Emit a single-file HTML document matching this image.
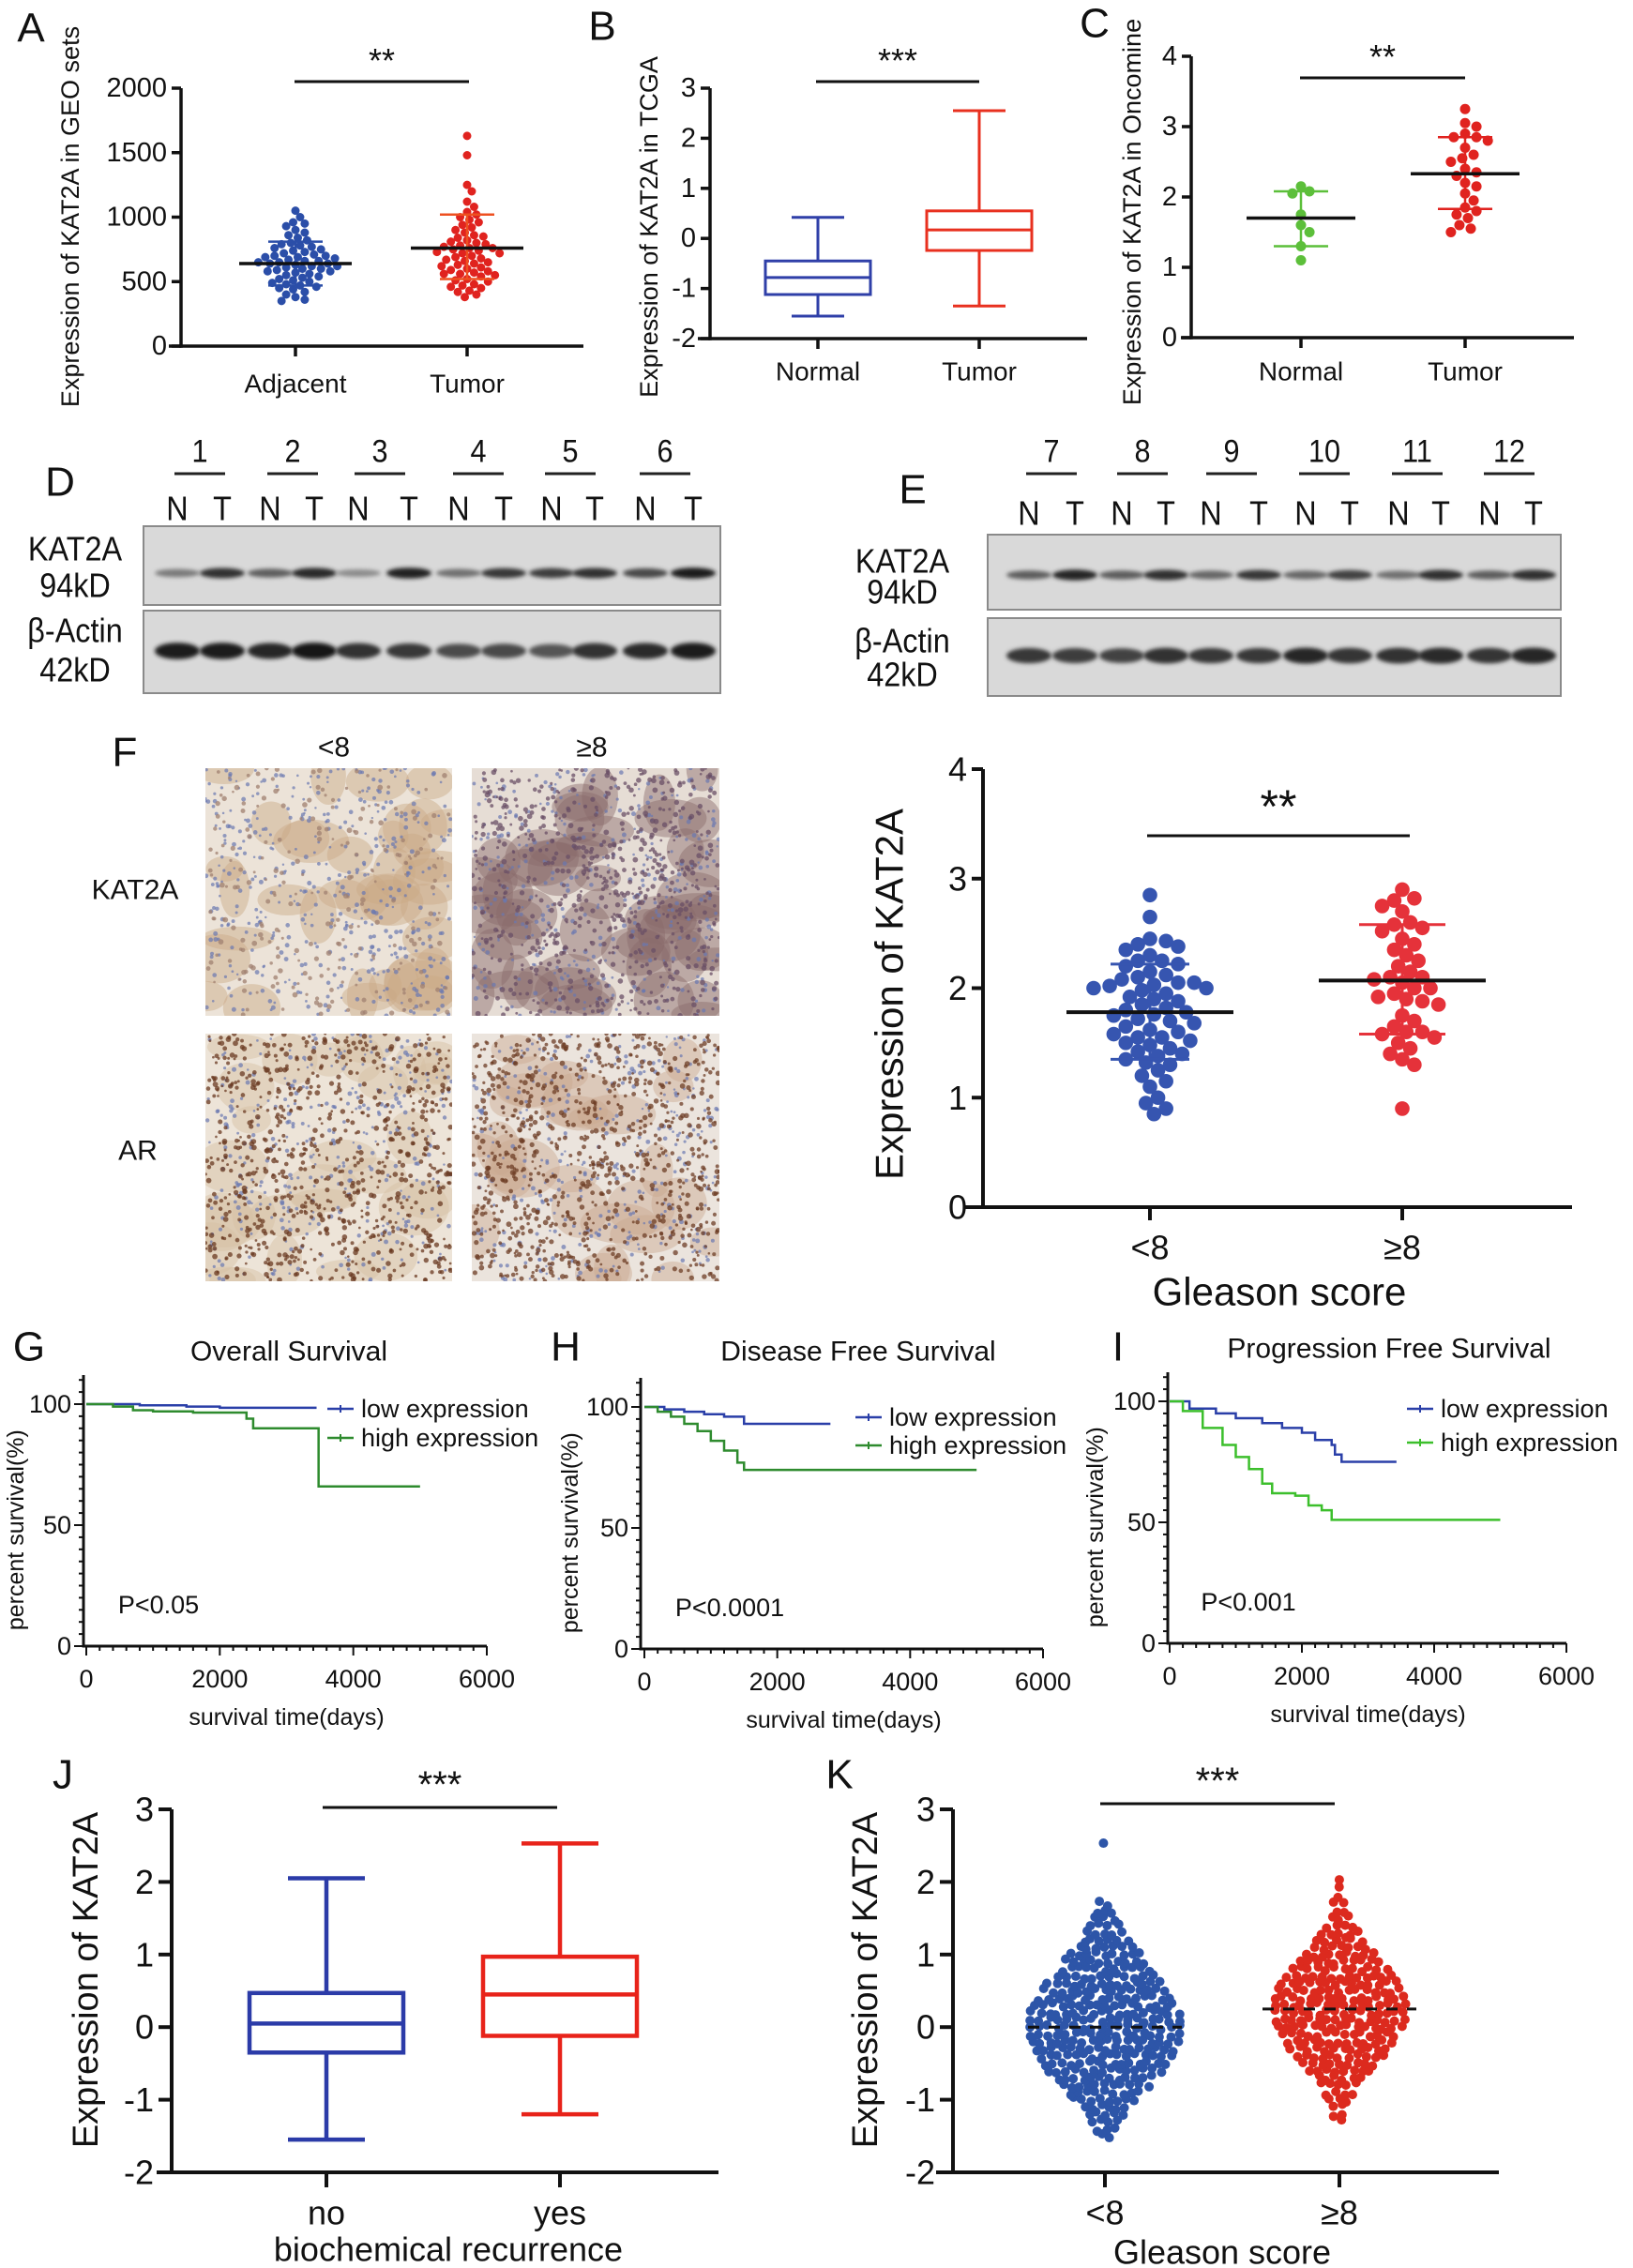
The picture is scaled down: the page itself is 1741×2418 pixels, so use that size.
<!DOCTYPE html>
<html><head><meta charset="utf-8"><style>html,body{margin:0;padding:0;background:#fff}svg{display:block}</style></head>
<body>
<svg id="fig" xmlns="http://www.w3.org/2000/svg" width="1741" height="2418" viewBox="0 0 1741 2418">
<defs><filter id="blur" x="-20%" y="-100%" width="140%" height="300%"><feGaussianBlur stdDeviation="3"/></filter>
<filter id="blur2" x="-30%" y="-100%" width="160%" height="300%"><feGaussianBlur stdDeviation="2.2"/></filter></defs>
<rect x="0" y="0" width="1741" height="2418" fill="#fff"/>
</svg>
<script>
// ---------- DATA ----------
const A_ticks=[0,500,1000,1500,2000];
const A_cats=['Adjacent','Tumor'];
const A_adjacent=[1050,1000,960,950,930,900,880,860,840,820,800,790,780,770,760,750,740,730,720,710,700,690,690,680,670,660,660,650,640,640,630,620,610,600,600,590,580,570,560,550,540,530,520,510,500,490,480,470,460,450,440,420,400,380,360,350,700,650,620,580];
const A_tumor=[1630,1480,1250,1200,1120,1080,1040,1020,1000,980,960,940,920,900,880,860,840,820,800,790,780,770,760,750,740,730,720,700,690,680,660,650,640,620,610,600,590,580,570,560,550,540,520,510,500,480,470,460,450,430,420,400,380,850,810,760,720,670,630,560];
const A_mean=[640,760];
const A_sdLow=[470,520];
const A_sdHigh=[810,1020];

const B_ticks=[-2,-1,0,1,2,3];
const B_cats=['Normal','Tumor'];
const B_min=[-1.55,-1.35], B_q1=[-1.12,-0.24], B_med=[-0.78,0.17], B_q3=[-0.45,0.55], B_max=[0.42,2.55];

const C_ticks=[0,1,2,3,4];
const C_cats=['Normal','Tumor'];
const C_normal=[2.15,2.08,2.05,1.75,1.6,1.5,1.3,1.1];
const C_tumor=[3.25,3.05,3.0,2.9,2.85,2.85,2.8,2.7,2.6,2.55,2.5,2.4,2.35,2.3,2.2,2.15,2.05,1.95,1.85,1.8,1.75,1.7,1.6,1.55,1.5];
const C_mean=[1.7,2.33], C_sdLow=[1.3,1.83], C_sdHigh=[2.08,2.85];

const D_pairs=['1','2','3','4','5','6'];
const D_kat2a=[0.45,0.85,0.6,0.88,0.35,0.92,0.5,0.8,0.78,0.85,0.72,0.95];
const D_actin=[0.95,0.95,0.9,0.98,0.85,0.8,0.7,0.72,0.65,0.85,0.88,0.95];
const E_pairs=['7','8','9','10','11','12'];
const E_kat2a=[0.6,0.9,0.6,0.85,0.55,0.8,0.55,0.75,0.5,0.85,0.6,0.85];
const E_actin=[0.8,0.78,0.75,0.85,0.8,0.8,0.9,0.82,0.85,0.88,0.82,0.9];

const F_ticks=[0,1,2,3,4];
const F_cats=['<8','≥8'];
const F_low=[2.85,2.65,2.45,2.43,2.4,2.38,2.35,2.3,2.25,2.25,2.22,2.2,2.15,2.12,2.1,2.08,2.05,2.05,2.03,2.02,2.0,2.0,1.98,1.95,1.92,1.9,1.88,1.85,1.82,1.8,1.78,1.76,1.75,1.72,1.7,1.68,1.65,1.62,1.6,1.58,1.55,1.55,1.52,1.5,1.48,1.45,1.42,1.4,1.38,1.35,1.32,1.3,1.25,1.2,1.15,1.1,1.0,0.95,0.9,0.85];
const F_high=[2.9,2.82,2.8,2.75,2.7,2.6,2.58,2.55,2.52,2.45,2.4,2.35,2.3,2.25,2.2,2.15,2.1,2.1,2.08,2.05,2.0,1.95,1.92,1.9,1.88,1.85,1.75,1.7,1.65,1.6,1.6,1.58,1.55,1.5,1.45,1.4,1.35,1.3,0.9,2.0];
const F_mean=[1.78,2.07], F_sdLow=[1.35,1.58], F_sdHigh=[2.22,2.58];

const S_xticks=[0,2000,4000,6000];
const S_yticks=[0,50,100];
const G_lowT=[0,800,1500,2000,3450], G_lowS=[100,99.5,99,98.5,98.5];
const G_highT=[0,400,700,1000,1600,2400,2500,3450,3480,5000], G_highS=[100,99,97.5,97,96.5,94,90,90,66,66];
const H_lowT=[0,300,600,900,1200,1500,2800], H_lowS=[100,99,98,97,96,93,93];
const H_highT=[0,200,400,600,800,1000,1200,1400,1500,5000], H_highS=[100,98,96,93,90,86,82,77,74,74];
const I_lowT=[0,300,700,1000,1400,1700,2000,2200,2450,2500,2600,3430], I_lowS=[100,97,95,93,91,89,87,84,82,78,75,75];
const I_highT=[0,200,500,800,1000,1200,1400,1550,1900,2100,2300,2450,5000], I_highS=[100,96,89,82,77,72,66,62,61,57,55,51,51];

const J_ticks=[-2,-1,0,1,2,3];
const J_cats=['no','yes'];
const J_min=[-1.55,-1.2], J_q1=[-0.35,-0.12], J_med=[0.05,0.45], J_q3=[0.47,0.97], J_max=[2.05,2.53];

const K_ticks=[-2,-1,0,1,2,3];
const K_cats=['<8','≥8'];
const K_lowStart=-1.5;
const K_lowCounts=[2,3,4,5,6,8,9,11,12,14,15,16,17,18,18,18,18,18,17,16,15,14,12,11,10,9,7,6,5,4,3,3,2,0,0,0,0,0,0,0,1];
const K_highStart=-1.3;
const K_highCounts=[1,2,2,3,4,5,6,8,9,11,12,13,14,15,16,16,16,16,15,14,13,12,10,9,7,6,5,4,3,2,2,1,1,1];
const K_mean=[0,0.25];

// ---------- HELPERS ----------
const NS='http://www.w3.org/2000/svg';
const svg=document.getElementById('fig');
const FONT='"Liberation Sans", "DejaVu Sans", sans-serif';
function lin(d0,d1,r0,r1){return v=>r0+(v-d0)*(r1-r0)/(d1-d0);}
function E(tag,a,name,p){
  const e=document.createElementNS(NS,tag);
  for(const k in a)e.setAttribute(k,a[k]);
  
  
  (p||svg).appendChild(e);return e;}
function T(x,y,s,fs,name,o){o=o||{};
  const e=E('text',{x:x,y:y,'font-size':fs,'text-anchor':o.anchor||'middle','dominant-baseline':o.base||'central','font-family':FONT,fill:o.fill||'#111'},name);
  if(o.rot)e.setAttribute('transform','rotate(-90 '+x+' '+y+')');
  if(o.sx)e.setAttribute('transform','translate('+x+' '+y+') scale('+o.sx+' 1) translate('+(-x)+' '+(-y)+')');
  e.textContent=s;return e;}
function L(x1,y1,x2,y2,c,w,name){return E('line',{x1:x1,y1:y1,x2:x2,y2:y2,stroke:c,'stroke-width':w},name);}
function yAxis(x,ys,ticks,fs,tl,w,name){
  L(x,ys(ticks[0])+w/2,x,ys(ticks[ticks.length-1]),'#111',w,name+'-y-axis');
  ticks.forEach(t=>{L(x-tl,ys(t),x,ys(t),'#111',w,name+'-y-tick');
    T(x-tl-5,ys(t),String(t),fs,name+'-y-tick-label',{anchor:'end'});});}
function xCats(y,x0,x1,cx,cats,fs,tl,w,ly,name){
  L(x0,y,x1,y,'#111',w,name+'-x-axis');
  cats.forEach((c,i)=>{L(cx(i),y,cx(i),y+tl,'#111',w,name+'-x-tick');
    T(cx(i),ly,c,fs,name+'-x-label');});}
function sig(x1,x2,y,stars,fs,name){L(x1,y,x2,y,'#111',3,name+'-significance-line');
  T((x1+x2)/2,y-fs*0.28,stars,fs,name+'-significance-stars',{base:'auto'});}
function swarm(vals,cx,ys,r,color,name){
  const s=[...vals].sort((a,b)=>b-a);const placed=[];
  s.forEach(v=>{const y=ys(v);let x=cx;
    for(let k=0;k<60;k++){const off=(k%2?1:-1)*Math.ceil(k/2)*r*0.55;const tx=cx+off;
      if(placed.every(p=>Math.hypot(p[0]-tx,p[1]-y)>=1.8*r)){x=tx;break;}}
    placed.push([x,y]);
    E('circle',{cx:x,cy:y,r:r,fill:color},name);});}
function meanSd(cx,ys,m,lo,hi,hw,cw,mc,sc,w,name){
  L(cx,ys(lo),cx,ys(hi),sc,w,name+'-sd-bar');
  L(cx-cw,ys(lo),cx+cw,ys(lo),sc,w,name+'-sd-cap-low');
  L(cx-cw,ys(hi),cx+cw,ys(hi),sc,w,name+'-sd-cap-high');
  L(cx-hw,ys(m),cx+hw,ys(m),mc,w+1,name+'-mean-line');}
function box(cx,w,ys,mn,q1,md,q3,mx,c,sw,name){
  L(cx,ys(mx),cx,ys(q3),c,sw,name+'-whisker-high');L(cx,ys(q1),cx,ys(mn),c,sw,name+'-whisker-low');
  L(cx-w/4,ys(mx),cx+w/4,ys(mx),c,sw,name+'-cap-high');L(cx-w/4,ys(mn),cx+w/4,ys(mn),c,sw,name+'-cap-low');
  E('rect',{x:cx-w/2,y:ys(q3),width:w,height:ys(q1)-ys(q3),fill:'none',stroke:c,'stroke-width':sw},name+'-box');
  L(cx-w/2,ys(md),cx+w/2,ys(md),c,sw,name+'-median');}

// ---------- PANEL LETTERS ----------
[['A',33,30],['B',642,28],['C',1167,25],['D',64,514],['E',973,522],['F',133,802],['G',31,1436],['H',603,1436],['I',1192,1436],['J',67,1892],['K',895,1892]]
.forEach(p=>T(p[1],p[2],p[0],44,'panel-label-'+p[0].toLowerCase()));

// ---------- A ----------
(function(){const ys=lin(0,2000,369,94);const cx=i=>315+i*183;
 yAxis(193,ys,A_ticks,29,10,3.5,'a');
 xCats(369,180,622,cx,A_cats,28,11,3.5,409,'a');
 T(75,231,'Expression of KAT2A in GEO sets',27,'a-y-axis-title',{rot:1});
 swarm(A_adjacent,cx(0),ys,4.5,'#2b4ea8','a-adjacent-dot');
 swarm(A_tumor,cx(1),ys,4.5,'#e0231f','a-tumor-dot');
 meanSd(cx(0),ys,A_mean[0],A_sdLow[0],A_sdHigh[0],60,29,'#111','#2b4ea8',2.5,'a-adjacent');
 meanSd(cx(1),ys,A_mean[1],A_sdLow[1],A_sdHigh[1],60,29,'#111','#ee5020',2.5,'a-tumor');
 sig(314,500,87,'**',36,'a');})();

// ---------- B ----------
(function(){const ys=lin(-2,3,361,94);const cx=i=>872+i*172;
 yAxis(757,ys,B_ticks,29,10,3.5,'b');
 xCats(361,744,1159,cx,B_cats,28,11,3.5,396,'b');
 T(692,242,'Expression of KAT2A in TCGA',27,'b-y-axis-title',{rot:1});
 const cols=['#2f3fa8','#e8301f'];
 B_cats.forEach((c,i)=>box(cx(i),112,ys,B_min[i],B_q1[i],B_med[i],B_q3[i],B_max[i],cols[i],3,'b-box-'+c.toLowerCase()));
 sig(870,1044,87,'***',36,'b');})();

// ---------- C ----------
(function(){const ys=lin(0,4,360,60);const cx=i=>1387+i*175;
 yAxis(1270,ys,C_ticks,29,10,3.5,'c');
 xCats(360,1259,1678,cx,C_cats,28,11,3.5,396,'c');
 T(1207,226,'Expression of KAT2A in Oncomine',27,'c-y-axis-title',{rot:1});
 swarm(C_normal,cx(0),ys,5.5,'#5cbf3a','c-normal-dot');
 swarm(C_tumor,cx(1),ys,5.5,'#e0231f','c-tumor-dot');
 meanSd(cx(0),ys,C_mean[0],C_sdLow[0],C_sdHigh[0],58,29,'#111','#5cbf3a',2.5,'c-normal');
 meanSd(cx(1),ys,C_mean[1],C_sdLow[1],C_sdHigh[1],58,29,'#111','#e0231f',2.5,'c-tumor');
 sig(1386,1562,83,'**',36,'c');})();

// ---------- WESTERN BLOTS ----------
function blot(pairs,kat,act,lanes,pairX,o,name){
 pairs.forEach((p,i)=>{T(pairX[i],481,p,34,name+'-sample-number',{sx:0.9});
   L(pairX[i]-27,505,pairX[i]+27,505,'#222',3,name+'-sample-underline');});
 lanes.forEach((x,i)=>T(x,o.nty,i%2?'T':'N',36,name+'-lane-label',{sx:0.9}));
 [[o.b1y0,o.b1y1,kat,o.kb,6],[o.b2y0,o.b2y1,act,o.ab,9]].forEach((b,k)=>{
   E('rect',{x:o.x0,y:b[0],width:o.x1-o.x0,height:b[1]-b[0],fill:'#d9d9d9',stroke:'#8a8a8a','stroke-width':2},name+(k?'-actin-membrane':'-kat2a-membrane'));
   b[2].forEach((v,i)=>{const g=Math.round(205-185*v);
     E('ellipse',{cx:lanes[i],cy:b[3],rx:24,ry:b[4]*(0.5+0.5*v),fill:'rgb('+g+','+g+','+g+')',filter:'url(#blur2)'},name+(k?'-actin-band':'-kat2a-band'));});});
 T(o.lx,o.ly[0],'KAT2A',36,name+'-kat2a-label',{sx:0.9});T(o.lx,o.ly[1],'94kD',36,name+'-kat2a-size',{sx:0.9});
 T(o.lx,o.ly[2],'β-Actin',36,name+'-actin-label',{sx:0.9});T(o.lx,o.ly[3],'42kD',36,name+'-actin-size',{sx:0.9});}
blot(D_pairs,D_kat2a,D_actin,[189,237,288,335,382,436,489,537,588,634,688,739],[213,312,405,510,608,709],
 {nty:543,x0:153,x1:768,b1y0:561,b1y1:645,b2y0:651,b2y1:739,kb:611,ab:694,lx:80,ly:[586,625,673,715]},'d');
blot(E_pairs,E_kat2a,E_actin,[1097,1146,1196,1243,1291,1342,1392,1439,1491,1536,1588,1635],[1121,1218,1313,1412,1511,1609],
 {nty:548,x0:1053,x1:1664,b1y0:570,b1y1:650,b2y0:659,b2y1:742,kb:613,ab:699,lx:962,ly:[599,632,684,720]},'e');

// ---------- F IHC ----------
let seed=7;function rnd(){seed=(seed*16807)%2147483647;return seed/2147483647;}
function ihc(x,y,w,h,base,gland,glandN,dot,dotN,blueN,name){
 E('rect',{x:x,y:y,width:w,height:h,fill:base},name);
 const cp=E('clipPath',{id:name+'-clip'},name+'-clip');E('rect',{x:x,y:y,width:w,height:h},name+'-clip-rect',cp);
 const g=E('g',{'clip-path':'url(#'+name+'-clip)'},name+'-tissue');
 for(let i=0;i<glandN;i++)E('ellipse',{cx:x+rnd()*w,cy:y+rnd()*h,rx:16+rnd()*26,ry:12+rnd()*20,fill:gland,opacity:0.45},name+'-gland',g);
 for(let i=0;i<blueN;i++)E('circle',{cx:x+rnd()*w,cy:y+rnd()*h,r:1.2+rnd()*1.3,fill:'#6a78b0',opacity:0.7},name+'-stroma-nucleus',g);
 for(let i=0;i<dotN;i++)E('circle',{cx:x+rnd()*w,cy:y+rnd()*h,r:1.3+rnd()*1.6,fill:dot,opacity:0.75},name+'-nucleus',g);}
ihc(219,819,263,264,'#ece3d8','#c9a886',40,'#a08070',250,450,'f-kat2a-low-image');
ihc(503,819,264,264,'#e6ddd5','#8a6a6a',55,'#6a4f66',700,350,'f-kat2a-high-image');
ihc(219,1102,263,264,'#ede4d8','#d4bea2',30,'#6a3a22',800,350,'f-ar-low-image');
ihc(503,1102,264,264,'#ebe4dd','#c9a890',30,'#6e3d26',900,350,'f-ar-high-image');
T(356,797,'<8',30,'f-image-column-low');T(631,797,'≥8',30,'f-image-column-high');
T(144,949,'KAT2A',30,'f-image-row-kat2a');T(147,1227,'AR',30,'f-image-row-ar');

// ---------- F SCATTER ----------
(function(){const ys=lin(0,4,1287,820);const cx=i=>1226+i*269;
 yAxis(1048,ys,F_ticks,36,12,4,'f');
 xCats(1287,1028,1676,cx,F_cats,36,14,4,1330,'f');
 T(1364,1377,'Gleason score',42,'f-x-axis-title');
 T(948,1060,'Expression of KAT2A',42,'f-y-axis-title',{rot:1});
 swarm(F_low,cx(0),ys,7.8,'#3655b0','f-low-dot');
 swarm(F_high,cx(1),ys,7.8,'#e5323a','f-high-dot');
 meanSd(cx(0),ys,F_mean[0],F_sdLow[0],F_sdHigh[0],89,42,'#111','#3655b0',3,'f-low');
 meanSd(cx(1),ys,F_mean[1],F_sdLow[1],F_sdHigh[1],89,46,'#111','#e5323a',3,'f-high');
 sig(1223,1503,891,'**',50,'f');})();

// ---------- SURVIVAL ----------
function surv(o,lowT,lowS,highT,highS,gc,name){
 const xs=lin(0,6000,o.x0,o.x1), ys=lin(0,100,o.y0,o.y100);
 L(o.ax,o.y0+1.5,o.ax,ys(112),'#111',3,name+'-y-axis');L(o.ax,o.y0,o.x1,o.y0,'#111',3,name+'-x-axis');
 for(let v=0;v<=110;v+=5)L(o.ax-(v%50?5:10),ys(v),o.ax,ys(v),'#111',2,name+'-y-minor-tick');
 for(let t=0;t<=6000;t+=200)L(xs(t),o.y0,xs(t),o.y0+(t%2000?5:10),'#111',2,name+'-x-minor-tick');
 S_yticks.forEach(v=>T(o.ax-13,ys(v),String(v),27,name+'-y-tick-label',{anchor:'end'}));
 S_xticks.forEach(t=>T(xs(t),o.y0+35,String(t),27,name+'-x-tick-label'));
 T((o.x0+o.x1)/2,o.y0+76,'survival time(days)',25,name+'-x-axis-title');
 T(o.ytx,ys(48),'percent survival(%)',25,name+'-y-axis-title',{rot:1});
 T(o.tx,o.ty,o.title,30,name+'-title');
 T(o.px,o.y0-44,o.p,27,name+'-p-value');
 function step(T_,S_,c,nm){let d='M'+xs(T_[0])+' '+ys(S_[0]);
   for(let i=1;i<T_.length;i++){d+=' H'+xs(T_[i])+' V'+ys(S_[i]);}
   E('path',{d:d,fill:'none',stroke:c,'stroke-width':2.5},nm);}
 step(lowT,lowS,'#2a3fa8',name+'-low-expression-curve');
 step(highT,highS,gc,name+'-high-expression-curve');
 [['low expression','#2a3fa8',o.ly[0]],['high expression',gc,o.ly[1]]].forEach((l,i)=>{
   L(o.lx,l[2],o.lx+28,l[2],l[1],2.5,name+'-legend-swatch');L(o.lx+14,l[2]-4,o.lx+14,l[2]+4,l[1],2,name+'-legend-swatch-tick');
   T(o.lx+36,l[2],l[0],27,name+'-legend-entry',{anchor:'start'});});}
surv({x0:92,x1:519,ax:89,y0:1755,y100:1497,ytx:17,tx:308,ty:1441,title:'Overall Survival',px:169,p:'P<0.05',lx:349,ly:[1502,1533]},G_lowT,G_lowS,G_highT,G_highS,'#2e8b2e','g');
surv({x0:687,x1:1112,ax:683,y0:1758,y100:1500,ytx:608,tx:915,ty:1441,title:'Disease Free Survival',px:778,p:'P<0.0001',lx:912,ly:[1511,1541]},H_lowT,H_lowS,H_highT,H_highS,'#2e8b2e','h');
surv({x0:1247,x1:1670,ax:1245,y0:1752,y100:1494,ytx:1168,tx:1481,ty:1438,title:'Progression Free Survival',px:1331,p:'P<0.001',lx:1500,ly:[1502,1538]},I_lowT,I_lowS,I_highT,I_highS,'#3cbf2c','i');

// ---------- J ----------
(function(){const ys=lin(-2,3,2316,1929);const cx=i=>348+i*249;
 yAxis(183,ys,J_ticks,36,14,4,'j');
 xCats(2316,167,766,cx,J_cats,36,16,4,2359,'j');
 T(478,2398,'biochemical recurrence',36,'j-x-axis-title');
 T(92,2111,'Expression of KAT2A',38,'j-y-axis-title',{rot:1});
 const cols=['#2b3ba8','#e8231a'];
 J_cats.forEach((c,i)=>box(cx(i),164,ys,J_min[i],J_q1[i],J_med[i],J_q3[i],J_max[i],cols[i],4.5,'j-box-'+c));
 sig(344,594,1927,'***',40,'j');})();

// ---------- K ----------
(function(){const ys=lin(-2,3,2316,1929);const cx=i=>1178+i*250;
 yAxis(1016,ys,K_ticks,36,14,4,'k');
 xCats(2316,998,1598,cx,K_cats,36,16,4,2359,'k');
 T(1303,2401,'Gleason score',36,'k-x-axis-title');
 T(923,2111,'Expression of KAT2A',38,'k-y-axis-title',{rot:1});
 function bins(start,counts,c,col,nm){counts.forEach((n,i)=>{const v=start+i*0.1;
   for(let j=0;j<n;j++){const x=c+(j-(n-1)/2)*9.2+(rnd()-0.5)*5;
     E('circle',{cx:x,cy:ys(v)+(rnd()-0.5)*6,r:5,fill:col},nm);}});}
 bins(K_lowStart,K_lowCounts,cx(0),'#2d55a8','k-low-dot');
 bins(K_highStart,K_highCounts,cx(1),'#dc2a1e','k-high-dot');
 [0,1].forEach(i=>E('line',{x1:cx(i)-82,y1:ys(K_mean[i]),x2:cx(i)+82,y2:ys(K_mean[i]),stroke:'#111','stroke-width':3,'stroke-dasharray':'12 10'},'k-mean-line'));
 sig(1173,1423,1923,'***',40,'k');})();
</script>
</body></html>
